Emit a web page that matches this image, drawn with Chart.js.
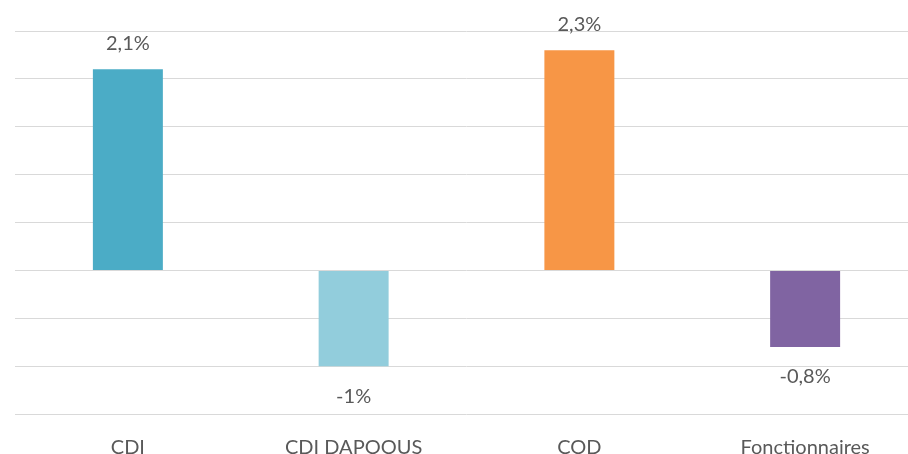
<!DOCTYPE html>
<html>
<head>
<meta charset="utf-8">
<script src="https://cdn.jsdelivr.net/npm/chart.js@4"></script>
<style>
    html, body { margin: 0; padding: 0; background: #fff; overflow: hidden; }
    #wrap { width: 908px; height: 454px; overflow: hidden; }
</style>
</head>
<body>
<div id="wrap"><canvas id="chart" width="918" height="454"></canvas></div>
<script>
// Data
const categories = ['CDI', 'CDI DAPOOUS', 'COD', 'Fonctionnaires'];
const values = [2.1, -1, 2.3, -0.8];
const barColors = ['#4bacc6', '#92cddc', '#f79646', '#8064a2'];
const yTicks = [-1.5, -1, -0.5, 0, 0.5, 1, 1.5, 2, 2.5];

const FONT = 'Lato, "Open Sans", sans-serif';

// French style label: 2,1%
const fmt = v => String(v).replace('.', ',') + '%';

// Value labels above / below each bar
const valueLabels = {
    id: 'valueLabels',
    afterDatasetsDraw(chart) {
        const ctx = chart.ctx;
        const meta = chart.getDatasetMeta(0);
        ctx.save();
        ctx.font = '20px ' + FONT;
        ctx.fillStyle = '#595959';
        ctx.textAlign = 'center';
        ctx.textBaseline = 'middle';
        meta.data.forEach((bar, i) => {
            const v = values[i];
            const y = v >= 0 ? bar.y - 26 : bar.y + 30;
            ctx.fillText(fmt(v), bar.x, y);
        });
        ctx.restore();
    }
};

new Chart(document.getElementById('chart'), {
    type: 'bar',
    data: {
        labels: categories,
        datasets: [{
            data: values,
            backgroundColor: barColors,
            borderWidth: 0,
            categoryPercentage: 1,
            barPercentage: 0.31
        }]
    },
    options: {
        responsive: false,
        animation: false,
        layout: { padding: { left: 15, right: 0, top: 31, bottom: 0 } },
        plugins: {
            legend: { display: false },
            tooltip: { enabled: false }
        },
        scales: {
            x: {
                grid: { display: false },
                border: { display: false },
                afterFit: axis => { axis.height = 40; },
                ticks: {
                    color: '#595959',
                    padding: 14,
                    maxRotation: 0,
                    font: { family: FONT, size: 20 }
                }
            },
            y: {
                min: yTicks[0],
                max: yTicks[yTicks.length - 1],
                afterBuildTicks: axis => { axis.ticks = yTicks.map(v => ({ value: v })); },
                grid: { color: '#d9d9d9', lineWidth: 1, drawTicks: false },
                border: { display: false },
                ticks: { display: false }
            }
        }
    },
    plugins: [valueLabels]
});
</script>
</body>
</html>
